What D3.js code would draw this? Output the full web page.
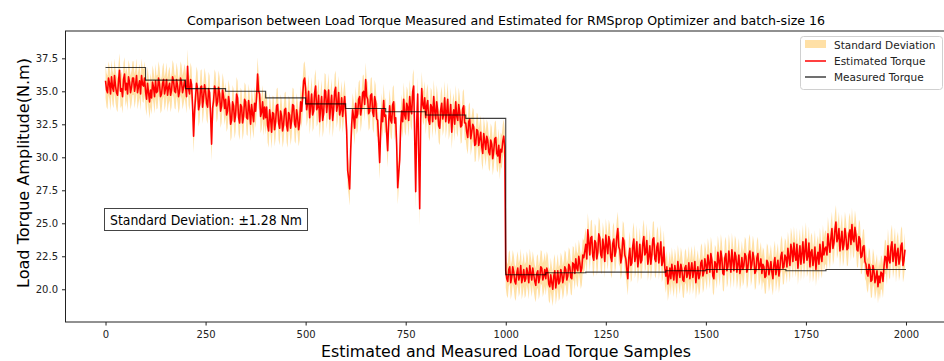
<!DOCTYPE html>
<html>
<head>
<meta charset="utf-8">
<script src="https://cdn.jsdelivr.net/npm/d3@7/dist/d3.min.js"></script>
<style>
  body { margin: 0; background: #fff; }
  text { font-family: "DejaVu Sans", sans-serif; }
</style>
</head>
<body>
<script>
// estimated torque, one value every 2.5 samples
var estimated = [
  35.8, 35.1, 34.9, 36.0, 35.6, 34.8, 36.1, 35.3, 35.0, 36.2,
  35.4, 34.9, 34.7, 35.8, 36.6, 35.0, 35.2, 34.6, 35.9, 36.3,
  35.1, 35.6, 34.8, 36.1, 35.7, 34.9, 35.3, 36.0, 36.0, 35.0,
  35.5, 36.2, 34.9, 35.4, 35.8, 34.8, 36.2, 35.5, 35.4, 36.0,

  35.0, 34.4, 35.6, 34.9, 34.2, 35.1, 34.5, 35.7, 35.3, 34.6,
  35.8, 34.9, 35.0, 36.0, 35.5, 34.6, 34.8, 35.6, 35.9, 34.8,
  35.2, 35.9, 34.7, 35.3, 35.6, 34.7, 35.1, 36.1, 35.8, 35.0,
  34.9, 35.9, 35.4, 34.6, 35.0, 36.0, 35.7, 34.9, 35.3, 35.8,

  35.3, 34.6, 36.9, 35.2, 34.8, 35.9, 35.5, 33.9, 31.6, 33.5,
  34.6, 35.6, 35.2, 33.6, 34.0, 35.3, 35.4, 33.8, 34.5, 35.5,
  35.0, 34.1, 33.8, 35.2, 34.9, 33.2, 31.0, 33.7, 34.3, 35.4,
  35.1, 33.9, 34.2, 35.3, 34.8, 33.5, 33.9, 35.1, 34.6, 33.7,

  34.4, 33.2, 33.5, 34.6, 34.0, 32.5, 32.8, 34.2, 33.9, 32.7,
  33.2, 34.8, 34.5, 33.0, 32.6, 34.0, 33.8, 32.6, 33.1, 34.4,
  34.2, 33.0, 32.9, 34.3, 33.6, 32.5, 34.0, 33.3, 32.7, 34.1,
  33.5, 34.6, 36.3, 35.0, 34.8, 33.1, 33.4, 34.2, 32.9, 33.8,

  33.0, 33.8, 32.4, 32.0, 33.6, 32.9, 31.9, 33.4, 33.3, 32.1,
  32.7, 33.9, 34.0, 32.6, 32.2, 33.5, 33.1, 32.0, 32.5, 33.6,
  33.7, 32.4, 32.0, 33.4, 33.2, 32.2, 32.8, 34.0, 33.9, 32.5,
  32.3, 33.6, 33.0, 32.1, 32.6, 34.2, 33.5, 34.6, 35.8, 36.0,

  35.2, 33.6, 34.1, 35.0, 33.0, 33.9, 34.8, 33.2, 33.5, 34.9,
  35.4, 33.6, 33.8, 34.7, 32.7, 33.8, 34.6, 32.8, 33.3, 35.1,
  35.0, 33.4, 34.2, 35.1, 32.9, 33.9, 34.7, 32.8, 33.6, 35.0,
  35.3, 33.5, 34.0, 34.9, 33.2, 33.6, 34.5, 33.1, 33.9, 34.6,

  33.4, 32.0, 29.0, 28.4, 27.6, 30.5, 32.5, 33.6, 33.0, 32.2,
  34.1, 33.0, 33.3, 34.4, 34.6, 33.2, 33.8, 34.9, 35.0, 34.0,
  35.9, 34.6, 34.4, 33.3, 33.5, 34.7, 34.8, 33.4, 33.1, 34.6,
  34.2, 32.9, 32.8, 31.2, 29.6, 32.0, 33.6, 32.7, 34.3, 33.1,

  33.2, 31.8, 30.5, 32.7, 33.9, 32.8, 32.6, 34.0, 34.2, 32.6,
  33.0, 30.9, 27.7, 28.8, 29.8, 32.4, 33.5, 32.7, 34.4, 33.2,
  32.9, 34.1, 33.8, 32.8, 34.6, 33.6, 33.3, 35.0, 35.4, 31.5,
  27.4, 32.6, 34.8, 30.2, 26.1, 32.9, 35.2, 34.0, 33.7, 34.5,

  33.0, 33.9, 34.3, 32.8, 32.5, 34.0, 33.8, 32.7, 34.6, 33.5,
  32.9, 34.2, 33.5, 32.4, 32.2, 33.6, 34.1, 32.9, 33.3, 34.5,
  32.7, 33.4, 34.4, 32.6, 33.0, 34.0, 31.9, 33.1, 33.6, 32.5,
  34.2, 33.1, 32.8, 34.0, 33.4, 32.3, 32.4, 33.7, 33.9, 32.6,

  32.6, 31.9, 31.5, 32.7, 32.9, 31.4, 31.9, 32.5, 32.3, 30.9,
  31.0, 32.1, 32.0, 30.9, 31.4, 31.9, 30.8, 30.3, 31.8, 31.2,
  30.6, 31.6, 31.3, 30.4, 30.2, 31.3, 31.0, 29.9, 30.5, 31.4,
  31.5, 30.3, 30.1, 30.9, 29.6, 30.6, 30.4, 31.2, 31.6, 30.8,

  21.4, 20.8, 20.6, 21.5, 21.7, 20.5, 20.9, 21.7, 21.3, 20.6,
  20.4, 21.2, 21.6, 20.7, 21.0, 21.8, 20.5, 20.9, 21.5, 20.6,
  20.8, 21.6, 21.2, 20.5, 21.8, 21.2, 20.7, 21.6, 21.1, 20.6,
  20.3, 21.2, 21.4, 20.5, 20.9, 21.7, 21.6, 20.7, 21.0, 21.5,

  20.8, 21.6, 21.3, 20.4, 20.2, 21.1, 20.5, 20.0, 21.0, 21.4,
  20.1, 20.7, 21.4, 20.4, 20.6, 21.5, 21.2, 20.5, 20.9, 21.7,
  21.5, 20.7, 21.0, 21.9, 21.7, 20.9, 20.8, 22.0, 21.9, 21.2,
  22.3, 21.6, 21.4, 22.5, 22.0, 21.3, 21.6, 22.6, 22.4, 22.9,

  23.4, 22.3, 24.5, 23.6, 22.6, 23.9, 24.0, 22.5, 22.2, 23.7,
  23.5, 22.3, 22.8, 24.2, 23.9, 22.6, 22.4, 23.8, 23.2, 22.1,
  24.1, 23.3, 22.7, 24.0, 23.6, 22.4, 22.1, 23.5, 23.8, 22.5,
  22.9, 24.0, 24.6, 23.2, 23.0, 22.0, 22.5, 23.9, 23.7, 22.6,

  22.3, 21.5, 20.8, 22.4, 23.1, 21.8, 22.0, 23.3, 23.8, 22.1,
  22.5, 23.6, 21.7, 22.4, 23.4, 22.0, 22.2, 23.5, 24.0, 22.6,
  22.8, 23.7, 21.9, 22.5, 23.3, 21.9, 22.6, 23.8, 23.9, 22.3,
  22.1, 23.2, 23.5, 22.0, 22.7, 23.6, 21.8, 22.1, 23.2, 21.6,

  21.0, 21.7, 20.4, 20.9, 21.6, 20.8, 21.9, 21.2, 20.7, 21.8,
  21.3, 20.5, 22.1, 21.4, 20.9, 21.9, 21.5, 20.7, 20.6, 21.6,
  21.8, 20.9, 21.2, 22.0, 20.8, 21.5, 22.0, 20.9, 21.4, 22.1,
  20.5, 21.2, 21.7, 20.8, 21.1, 22.0, 22.2, 21.0, 21.3, 22.3,

  21.8, 21.2, 22.6, 22.0, 21.3, 22.7, 22.2, 21.0, 20.8, 22.1,
  21.9, 21.3, 22.8, 22.1, 21.5, 22.9, 22.3, 21.2, 21.1, 22.4,
  22.7, 21.4, 21.7, 22.9, 22.1, 21.3, 23.0, 22.2, 21.4, 22.8,
  22.5, 21.3, 21.9, 22.6, 21.2, 21.6, 22.4, 21.5, 21.8, 22.7,

  22.5, 21.3, 21.6, 22.6, 22.9, 21.5, 21.9, 22.8, 22.3, 21.2,
  21.4, 22.4, 22.7, 21.5, 21.8, 22.3, 21.2, 21.9, 21.7, 20.9,
  21.0, 22.2, 22.0, 21.1, 21.5, 22.1, 21.3, 20.8, 21.9, 22.4,
  21.1, 21.7, 22.2, 21.0, 21.6, 22.5, 22.8, 21.6, 21.7, 22.6,

  22.4, 21.7, 23.1, 22.4, 21.8, 23.4, 22.9, 22.1, 23.5, 22.6,
  22.2, 23.4, 21.6, 22.5, 23.3, 21.9, 22.7, 23.6, 22.0, 22.9,
  23.8, 22.2, 22.5, 23.5, 21.7, 22.8, 23.0, 21.8, 22.3, 23.2,
  21.5, 22.4, 22.8, 21.9, 23.4, 22.5, 22.1, 23.6, 22.6, 23.1,

  23.2, 22.6, 24.2, 23.4, 22.8, 23.9, 24.6, 23.1, 23.5, 24.5,
  25.1, 23.6, 23.9, 24.6, 22.9, 23.7, 24.4, 23.0, 23.4, 24.6,
  24.0, 23.0, 23.1, 24.2, 24.5, 23.4, 24.9, 23.8, 23.6, 24.7,
  24.1, 23.0, 22.9, 24.0, 23.8, 22.4, 22.5, 23.2, 23.3, 22.1,

  21.9, 21.2, 21.0, 21.9, 21.6, 20.6, 20.7, 21.8, 21.4, 20.5,
  20.9, 21.4, 20.2, 21.0, 20.5, 21.3, 21.2, 20.6, 21.7, 22.5,
  22.4, 21.6, 23.3, 22.2, 22.0, 23.2, 23.6, 22.1, 22.6, 23.4,
  21.8, 22.7, 23.1, 21.9, 22.3, 23.3, 23.5, 21.8, 22.2, 23.0
];
var sampleStep = 2.5;

// measured torque, one level per block of 100 samples
var measured = [36.8, 35.85, 35.2, 35.0, 34.5, 34.05, 33.7, 33.45, 33.2, 32.95,
                21.1, 21.25, 21.3, 21.3, 21.4, 21.5, 21.5, 21.4, 21.5, 21.5];
var blockSize = 100;

var stdDev = 1.28;

var xTicks = [0, 250, 500, 750, 1000, 1250, 1500, 1750, 2000];
var yTicks = [20.0, 22.5, 25.0, 27.5, 30.0, 32.5, 35.0, 37.5];

var width = 944,
    height = 361,
    plotLeft = 65.5,
    plotRight = 946,
    plotTop = 31,
    plotBottom = 322;

var x = d3.scaleLinear().domain([-100, 2100]).range([plotLeft, plotRight]);
var y = d3.scaleLinear().domain([17.52, 39.57]).range([plotBottom, plotTop]);

var svg = d3.select("body").append("svg")
    .attr("width", width)
    .attr("height", height);

svg.append("clipPath").attr("id", "plot")
  .append("rect")
    .attr("x", plotLeft).attr("y", plotTop)
    .attr("width", plotRight - plotLeft).attr("height", plotBottom - plotTop);

var plot = svg.append("g").attr("clip-path", "url(#plot)");

var band = d3.area()
    .x(function(d, i) { return x(i * sampleStep); })
    .y0(function(d) { return y(d - stdDev); })
    .y1(function(d) { return y(d + stdDev); });

plot.append("path")
    .datum(estimated)
    .attr("d", band)
    .attr("fill", "orange")
    .attr("fill-opacity", 0.35);

var line = d3.line()
    .x(function(d, i) { return x(i * sampleStep); })
    .y(function(d) { return y(d); });

plot.append("path")
    .datum(estimated)
    .attr("d", line)
    .attr("fill", "none")
    .attr("stroke", "red")
    .attr("stroke-width", 1.6)
    .attr("stroke-linejoin", "round");

var steps = measured.map(function(v, i) { return [i * blockSize, v]; });
steps.push([measured.length * blockSize, measured[measured.length - 1]]);

plot.append("path")
    .datum(steps)
    .attr("d", d3.line()
        .curve(d3.curveStepAfter)
        .x(function(d) { return x(d[0]); })
        .y(function(d) { return y(d[1]); }))
    .attr("fill", "none")
    .attr("stroke", "black")
    .attr("stroke-opacity", 0.75)
    .attr("stroke-width", 1.1);

// axes
var xAxis = svg.append("g")
    .attr("transform", "translate(0," + plotBottom + ")")
    .call(d3.axisBottom(x).tickValues(xTicks).tickSize(3.5).tickPadding(5).tickFormat(d3.format("d")));

var yAxis = svg.append("g")
    .attr("transform", "translate(" + plotLeft + ",0)")
    .call(d3.axisLeft(y).tickValues(yTicks).tickSize(3.5).tickPadding(4).tickFormat(d3.format(".1f")));

[xAxis, yAxis].forEach(function(a) {
  a.select(".domain").remove();
  a.selectAll("text").attr("font-size", 10).attr("fill", "#222")
      .style("font-family", "DejaVu Sans, sans-serif");
  a.selectAll("line").attr("stroke", "#222");
});

svg.append("rect")
    .attr("x", plotLeft).attr("y", plotTop)
    .attr("width", plotRight - plotLeft).attr("height", plotBottom - plotTop)
    .attr("fill", "none")
    .attr("stroke", "#222")
    .attr("stroke-width", 1);

// title and labels
svg.append("text")
    .attr("x", 506).attr("y", 25)
    .attr("text-anchor", "middle")
    .attr("font-size", 13)
    .attr("textLength", 638)
    .attr("lengthAdjust", "spacingAndGlyphs")
    .text("Comparison between Load Torque Measured and Estimated for RMSprop Optimizer and batch-size 16");

svg.append("text")
    .attr("x", 506).attr("y", 357)
    .attr("text-anchor", "middle")
    .attr("font-size", 16)
    .attr("textLength", 370)
    .attr("lengthAdjust", "spacingAndGlyphs")
    .text("Estimated and Measured Load Torque Samples");

svg.append("text")
    .attr("transform", "translate(29,173) rotate(-90)")
    .attr("text-anchor", "middle")
    .attr("font-size", 16)
    .attr("textLength", 230)
    .attr("lengthAdjust", "spacingAndGlyphs")
    .text("Load Torque Amplitude(N.m)");

// std text box
svg.append("rect")
    .attr("x", 104.5).attr("y", 208.5)
    .attr("width", 203).attr("height", 22)
    .attr("fill", "white")
    .attr("stroke", "#444");

svg.append("text")
    .attr("x", 110).attr("y", 224.5)
    .attr("font-size", 14)
    .attr("textLength", 192)
    .attr("lengthAdjust", "spacingAndGlyphs")
    .text("Standard Deviation: \u00b1" + stdDev.toFixed(2) + " Nm");

// legend
var legend = svg.append("g").attr("transform", "translate(800,36)");

legend.append("rect")
    .attr("x", 0.5).attr("y", 0.5)
    .attr("width", 142).attr("height", 53)
    .attr("rx", 3)
    .attr("fill", "white")
    .attr("fill-opacity", 0.8)
    .attr("stroke", "#d0d0d0");

legend.append("rect")
    .attr("x", 5).attr("y", 4)
    .attr("width", 21).attr("height", 8)
    .attr("fill", "orange")
    .attr("fill-opacity", 0.35);

legend.append("line")
    .attr("x1", 5).attr("x2", 26).attr("y1", 25).attr("y2", 25)
    .attr("stroke", "red").attr("stroke-width", 1.5);

legend.append("line")
    .attr("x1", 5).attr("x2", 26).attr("y1", 41).attr("y2", 41)
    .attr("stroke", "black").attr("stroke-opacity", 0.75).attr("stroke-width", 1.5);

legend.selectAll("text.lbl")
    .data(["Standard Deviation", "Estimated Torque", "Measured Torque"])
    .enter().append("text")
    .attr("class", "lbl")
    .attr("x", 34)
    .attr("y", function(d, i) { return 13 + i * 16; })
    .attr("font-size", 10.5)
    .attr("fill", "#222")
    .text(function(d) { return d; });
</script>
</body>
</html>
